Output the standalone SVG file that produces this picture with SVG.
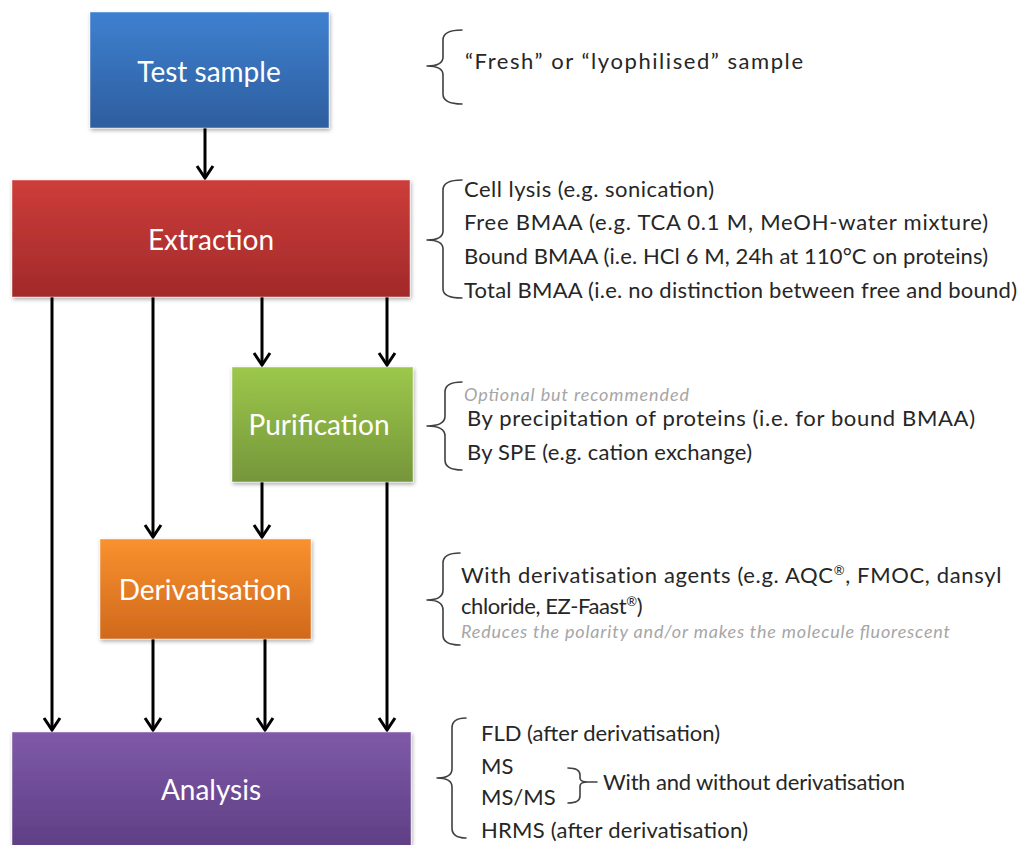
<svg xmlns="http://www.w3.org/2000/svg" width="1021" height="845" viewBox="0 0 1021 845">
  <style>
    .box { stroke: #ffffff; stroke-opacity: 0.45; stroke-width: 1; filter: url(#shadow); }
    .label { font-family: Lato, "Open Sans", sans-serif; font-size: 28px; fill: #ffffff; text-anchor: middle; }
    .note { font-family: Lato, "Open Sans", sans-serif; font-size: 22px; fill: #262626; }
    .hint { font-family: Lato, "Open Sans", sans-serif; font-size: 18px; font-style: italic; fill: #a6a6a6; }
    .sup { font-size: 13px; }
    .brace { fill: none; stroke: #404040; stroke-width: 1.6; stroke-linecap: round; stroke-linejoin: round; }
    .flow { fill: none; stroke: #000000; stroke-width: 3; marker-end: url(#head); }
  </style>
  <defs>
    <filter id="shadow" x="-5%" y="-5%" width="112%" height="120%">
      <feGaussianBlur in="SourceAlpha" stdDeviation="2"/>
      <feOffset dx="1" dy="2" result="blur"/>
      <feComponentTransfer><feFuncA type="linear" slope="0.35"/></feComponentTransfer>
      <feMerge><feMergeNode/><feMergeNode in="SourceGraphic"/></feMerge>
    </filter>
    <linearGradient id="gBlue" x1="0" y1="0" x2="0" y2="1">
      <stop offset="0" stop-color="#3f80d0"/>
      <stop offset="1" stop-color="#2d5e9e"/>
    </linearGradient>
    <linearGradient id="gRed" x1="0" y1="0" x2="0" y2="1">
      <stop offset="0" stop-color="#cd3d3a"/>
      <stop offset="1" stop-color="#a2292a"/>
    </linearGradient>
    <linearGradient id="gGreen" x1="0" y1="0" x2="0" y2="1">
      <stop offset="0" stop-color="#9cc84b"/>
      <stop offset="1" stop-color="#75963a"/>
    </linearGradient>
    <linearGradient id="gOrange" x1="0" y1="0" x2="0" y2="1">
      <stop offset="0" stop-color="#f9912f"/>
      <stop offset="1" stop-color="#d0691c"/>
    </linearGradient>
    <linearGradient id="gPurple" x1="0" y1="0" x2="0" y2="1">
      <stop offset="0" stop-color="#7f5aa8"/>
      <stop offset="1" stop-color="#5a3b80"/>
    </linearGradient>
    <!-- open chevron arrowhead, drawn along +x so orient="auto" points it down the line -->
    <marker id="head" markerUnits="userSpaceOnUse" markerWidth="24" markerHeight="24" refX="18" refY="12" orient="auto" viewBox="0 0 24 24">
      <path d="M6,4 L18,12 L6,20" fill="none" stroke="#000" stroke-width="3"/>
    </marker>
  </defs>

  <!-- flow arrows -->
  <g id="connectors">
    <path class="flow" d="M205,128 V178"/>
    <path class="flow" d="M52,297 V730"/>
    <path class="flow" d="M153,297 V537"/>
    <path class="flow" d="M262,297 V365"/>
    <path class="flow" d="M387,297 V365"/>
    <path class="flow" d="M262,482 V537"/>
    <path class="flow" d="M387,482 V730"/>
    <path class="flow" d="M153,639 V730"/>
    <path class="flow" d="M265,639 V730"/>
  </g>

  <!-- process steps -->
  <g id="test-sample">
    <rect class="box" x="90" y="12" width="239" height="116" fill="url(#gBlue)"/>
    <text class="label" x="209" y="82">Test sample</text>
  </g>
  <g id="extraction">
    <rect class="box" x="12" y="180" width="398" height="117" fill="url(#gRed)"/>
    <text class="label" x="211" y="250">Extraction</text>
  </g>
  <g id="purification">
    <rect class="box" x="232" y="367" width="181" height="115" fill="url(#gGreen)"/>
    <text class="label" x="319" y="435">Purification</text>
  </g>
  <g id="derivatisation">
    <rect class="box" x="100" y="539" width="211" height="100" fill="url(#gOrange)"/>
    <text class="label" x="205" y="600">Derivatisation</text>
  </g>
  <g id="analysis">
    <rect class="box" x="12" y="732" width="399" height="130" fill="url(#gPurple)"/>
    <text class="label" x="211" y="800">Analysis</text>
  </g>

  <!-- annotations -->
  <g id="note-sample">
    <path class="brace" d="M462,30 Q443,30 443,40 V57 Q443,66 427,66 Q443,66 443,75 V94 Q443,104 462,104"/>
    <text class="note" x="465" y="69" font-size="24" textLength="338">“Fresh” or “lyophilised” sample</text>
  </g>
  <g id="note-extraction">
    <path class="brace" d="M462,180 Q443,180 443,190 V231 Q443,240 427,240 Q443,240 443,249 V289 Q443,298 462,298"/>
    <text class="note" x="464" y="197" textLength="250">Cell lysis (e.g. sonication)</text>
    <text class="note" x="464" y="230" textLength="524">Free BMAA (e.g. TCA 0.1 M, MeOH-water mixture)</text>
    <text class="note" x="464" y="264" textLength="524">Bound BMAA (i.e. HCl 6 M, 24h at 110°C on proteins)</text>
    <text class="note" x="464" y="298" textLength="553">Total BMAA (i.e. no distinction between free and bound)</text>
  </g>
  <g id="note-purification">
    <path class="brace" d="M462,382 Q445,382 445,392 V416 Q445,426 427,426 Q445,426 445,436 V460 Q445,470 462,470"/>
    <text class="hint" x="464" y="401" textLength="225">Optional but recommended</text>
    <text class="note" x="467" y="426" textLength="508">By precipitation of proteins (i.e. for bound BMAA)</text>
    <text class="note" x="467" y="460" textLength="285">By SPE (e.g. cation exchange)</text>
  </g>
  <g id="note-derivatisation">
    <path class="brace" d="M460,553 Q443,553 443,563 V590 Q443,600 427,600 Q443,600 443,610 V635 Q443,645 460,645"/>
    <text class="note" x="461" y="583" letter-spacing="0.65">With derivatisation agents (e.g. AQC<tspan class="sup" dy="-8">®</tspan><tspan dy="8">, FMOC, dansyl</tspan></text>
    <text class="note" x="461" y="614" letter-spacing="-0.4">chloride, EZ-Faast<tspan class="sup" dy="-8">®</tspan><tspan dy="8">)</tspan></text>
    <text class="hint" x="461" y="638" textLength="489">Reduces the polarity and/or makes the molecule fluorescent</text>
  </g>
  <g id="note-analysis">
    <path class="brace" d="M466,718 Q452,718 452,728 V769 Q452,778 437,778 Q452,778 452,787 V828 Q452,838 466,838"/>
    <text class="note" x="481" y="741" textLength="239">FLD (after derivatisation)</text>
    <text class="note" x="481" y="774">MS</text>
    <text class="note" x="481" y="805">MS/MS</text>
    <text class="note" x="481" y="838" textLength="267">HRMS (after derivatisation)</text>
    <path class="brace" d="M568,768 Q580,768 580,775 V778 Q580,782 588,782 Q580,782 580,786 V796 Q580,803 568,803 M588,782 H597"/>
    <text class="note" x="603" y="790" textLength="302">With and without derivatisation</text>
  </g>
</svg>
